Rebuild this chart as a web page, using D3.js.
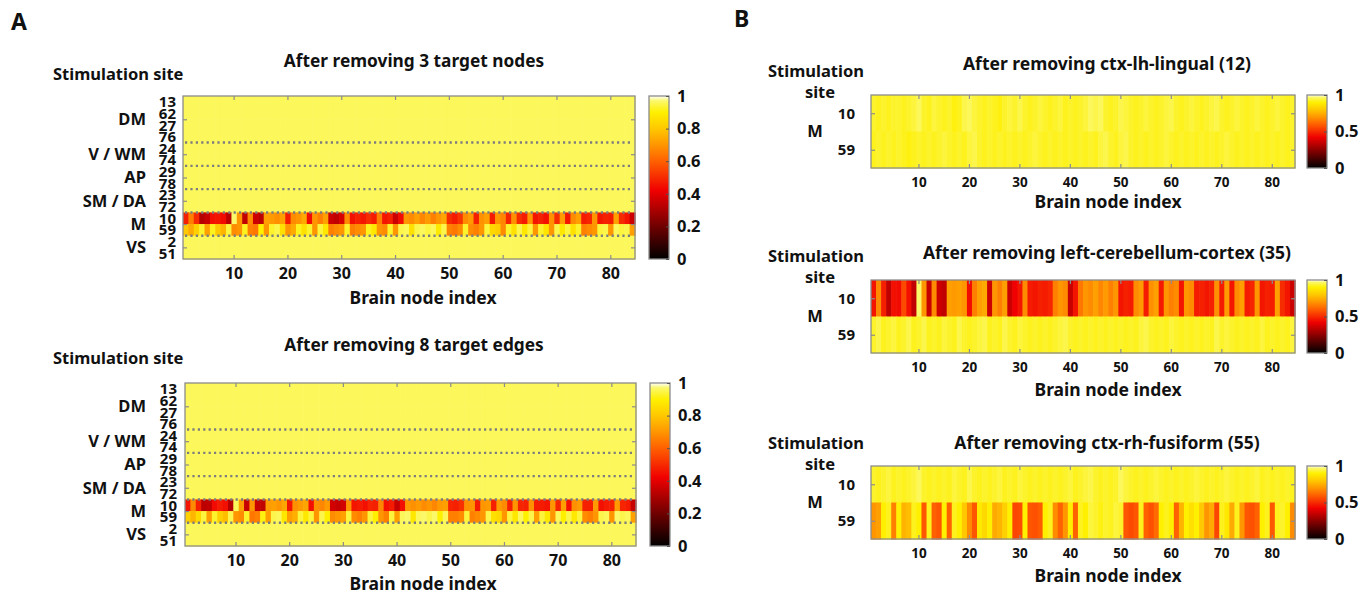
<!DOCTYPE html>
<html>
<head>
<meta charset="utf-8">
<script src="https://cdn.jsdelivr.net/npm/d3@7"></script>
<style>
  body { margin: 0; background: #fff; }
  text { font-family: "Noto Sans", "Open Sans", sans-serif; font-weight: bold; fill: #111; }
</style>
</head>
<body>
<div id="chart"></div>
<script>
// ---- data ----
const nodeIndex = d3.range(1, 85);           // brain node index 1..84
const xTicks = [10, 20, 30, 40, 50, 60, 70, 80];

const sitesA = ["13", "62", "27", "76", "24", "74", "29", "78", "23", "72", "10", "59", "2", "51"];
const groupNames = ["DM", "V / WM", "AP", "SM / DA", "M", "VS"];
const groupSizes = [4, 2, 2, 2, 2, 2];
const sitesB = ["10", "59"];

const cbTicksA = [0, 0.2, 0.4, 0.6, 0.8, 1];
const cbTicksB = [0, 0.5, 1];

// rows of panel A other than the M sites (all close to 1)
const restRowA = [0.96,0.96,0.96,0.96,0.96,0.96,0.96,0.96,0.96,0.96,
  0.96,0.96,0.96,0.96,0.96,0.96,0.96,0.96,0.96,0.96,
  0.96,0.96,0.96,0.96,0.96,0.96,0.96,0.96,0.96,0.96,
  0.96,0.96,0.96,0.96,0.96,0.96,0.96,0.96,0.96,0.96,
  0.96,0.96,0.96,0.96,0.96,0.96,0.96,0.96,0.96,0.96,
  0.96,0.96,0.96,0.96,0.96,0.96,0.96,0.96,0.96,0.96,
  0.96,0.96,0.96,0.96,0.96,0.96,0.96,0.96,0.96,0.96,
  0.96,0.96,0.96,0.96,0.96,0.96,0.96,0.96,0.96,0.96,
  0.96,0.96,0.96,0.96];

// After removing 3 target nodes
const nodes10 = [0.48,0.66,0.50,0.32,0.35,0.45,0.46,0.44,0.33,0.97,
  0.70,0.34,0.68,0.36,0.33,0.72,0.71,0.69,0.72,0.47,
  0.68,0.70,0.74,0.44,0.70,0.66,0.72,0.36,0.34,0.38,
  0.68,0.45,0.48,0.46,0.50,0.47,0.66,0.46,0.48,0.36,
  0.44,0.70,0.68,0.72,0.67,0.71,0.66,0.70,0.73,0.50,
  0.47,0.52,0.68,0.71,0.48,0.69,0.72,0.47,0.70,0.67,
  0.49,0.69,0.50,0.47,0.70,0.46,0.48,0.45,0.69,0.50,
  0.71,0.46,0.68,0.72,0.47,0.49,0.70,0.46,0.48,0.47,
  0.72,0.50,0.46,0.36];
const nodes59 = [0.80,0.74,0.82,0.93,0.72,0.92,0.80,0.76,0.94,0.68,
  0.70,0.92,0.66,0.64,0.90,0.70,0.93,0.95,0.86,0.70,
  0.74,0.92,0.86,0.93,0.70,0.94,0.88,0.66,0.68,0.70,
  0.93,0.66,0.68,0.70,0.92,0.88,0.70,0.68,0.93,0.70,
  0.95,0.96,0.86,0.95,0.96,0.94,0.96,0.88,0.95,0.66,
  0.64,0.68,0.93,0.68,0.66,0.70,0.94,0.84,0.82,0.68,
  0.93,0.86,0.95,0.88,0.94,0.70,0.93,0.87,0.70,0.95,
  0.88,0.94,0.86,0.93,0.66,0.68,0.70,0.94,0.95,0.70,
  0.96,0.94,0.95,0.72];

// After removing 8 target edges
const edges10 = [0.46,0.68,0.48,0.33,0.34,0.44,0.47,0.45,0.32,0.96,
  0.72,0.35,0.70,0.35,0.34,0.71,0.72,0.70,0.73,0.46,
  0.69,0.71,0.73,0.45,0.69,0.67,0.71,0.37,0.35,0.37,
  0.69,0.46,0.47,0.45,0.49,0.48,0.67,0.45,0.47,0.35,
  0.45,0.71,0.69,0.71,0.68,0.70,0.67,0.71,0.72,0.49,
  0.48,0.51,0.69,0.70,0.47,0.70,0.71,0.48,0.71,0.68,
  0.48,0.70,0.49,0.48,0.69,0.47,0.47,0.46,0.70,0.49,
  0.72,0.45,0.69,0.71,0.48,0.48,0.71,0.45,0.47,0.48,
  0.71,0.49,0.47,0.35];
const edges59 = [0.82,0.76,0.84,0.94,0.72,0.93,0.82,0.78,0.95,0.70,
  0.68,0.93,0.64,0.66,0.91,0.72,0.95,0.96,0.88,0.72,
  0.75,0.94,0.88,0.94,0.70,0.95,0.90,0.68,0.70,0.72,
  0.94,0.68,0.66,0.70,0.94,0.90,0.70,0.66,0.94,0.72,
  0.96,0.97,0.88,0.96,0.97,0.95,0.97,0.90,0.96,0.66,
  0.66,0.68,0.94,0.66,0.68,0.70,0.95,0.86,0.84,0.70,
  0.94,0.88,0.96,0.90,0.95,0.72,0.94,0.88,0.70,0.96,
  0.90,0.95,0.88,0.94,0.68,0.66,0.70,0.95,0.96,0.70,
  0.97,0.95,0.96,0.72];

// After removing ctx-lh-lingual (12)
const lingual10 = [0.93,0.92,0.93,0.92,0.93,0.93,0.92,0.93,0.94,0.96,
  0.93,0.92,0.94,0.93,0.92,0.93,0.91,0.92,0.95,0.96,
  0.94,0.93,0.92,0.93,0.92,0.91,0.93,0.94,0.93,0.95,
  0.93,0.92,0.93,0.94,0.93,0.92,0.93,0.94,0.92,0.93,
  0.92,0.93,0.94,0.96,0.95,0.96,0.93,0.92,0.93,0.95,
  0.94,0.93,0.92,0.93,0.94,0.93,0.92,0.93,0.94,0.95,
  0.93,0.92,0.93,0.94,0.93,0.92,0.93,0.94,0.95,0.93,
  0.92,0.93,0.94,0.93,0.92,0.93,0.94,0.93,0.92,0.93,
  0.94,0.93,0.92,0.93];
const lingual59 = [0.92,0.93,0.92,0.93,0.92,0.93,0.92,0.91,0.92,0.93,
  0.92,0.93,0.92,0.93,0.94,0.93,0.92,0.93,0.92,0.94,
  0.95,0.93,0.92,0.93,0.92,0.93,0.92,0.93,0.92,0.93,
  0.92,0.93,0.94,0.93,0.92,0.93,0.92,0.93,0.92,0.93,
  0.92,0.93,0.92,0.93,0.92,0.94,0.95,0.93,0.92,0.94,
  0.95,0.93,0.92,0.93,0.92,0.93,0.92,0.93,0.94,0.93,
  0.92,0.93,0.92,0.93,0.92,0.93,0.92,0.93,0.92,0.93,
  0.94,0.93,0.92,0.93,0.92,0.93,0.92,0.93,0.92,0.93,
  0.92,0.93,0.92,0.93];

// After removing left-cerebellum-cortex (35)
const cerebellum10 = [0.46,0.68,0.48,0.34,0.45,0.44,0.56,0.45,0.34,0.97,
  0.70,0.35,0.68,0.36,0.34,0.72,0.71,0.72,0.70,0.44,
  0.66,0.72,0.74,0.36,0.70,0.66,0.72,0.36,0.42,0.46,
  0.68,0.47,0.46,0.48,0.47,0.49,0.66,0.70,0.68,0.35,
  0.46,0.64,0.70,0.68,0.72,0.67,0.71,0.66,0.70,0.46,
  0.48,0.47,0.68,0.71,0.47,0.69,0.72,0.47,0.70,0.66,
  0.68,0.46,0.70,0.68,0.47,0.48,0.46,0.48,0.69,0.47,
  0.71,0.46,0.68,0.72,0.47,0.49,0.70,0.46,0.48,0.47,
  0.72,0.50,0.46,0.36];
const cerebellum59 = [0.93,0.95,0.92,0.93,0.94,0.92,0.93,0.95,0.92,0.93,
  0.95,0.92,0.93,0.92,0.94,0.93,0.92,0.95,0.93,0.92,
  0.93,0.94,0.95,0.92,0.93,0.92,0.95,0.93,0.92,0.94,
  0.93,0.92,0.93,0.92,0.93,0.92,0.93,0.94,0.95,0.93,
  0.92,0.93,0.92,0.93,0.92,0.93,0.92,0.93,0.92,0.93,
  0.92,0.93,0.92,0.94,0.95,0.93,0.92,0.93,0.92,0.94,
  0.93,0.92,0.93,0.92,0.93,0.92,0.93,0.92,0.95,0.93,
  0.94,0.93,0.92,0.93,0.92,0.93,0.92,0.94,0.92,0.93,
  0.92,0.93,0.92,0.94];

// After removing ctx-rh-fusiform (55)
const fusiform10 = [0.93,0.92,0.93,0.94,0.92,0.93,0.92,0.93,0.94,0.96,
  0.93,0.92,0.93,0.92,0.93,0.92,0.94,0.93,0.92,0.95,
  0.93,0.92,0.93,0.92,0.93,0.94,0.92,0.93,0.92,0.94,
  0.93,0.92,0.93,0.92,0.93,0.92,0.93,0.92,0.93,0.94,
  0.92,0.93,0.94,0.95,0.93,0.92,0.93,0.92,0.93,0.96,
  0.94,0.93,0.92,0.93,0.92,0.93,0.94,0.93,0.92,0.93,
  0.92,0.93,0.92,0.93,0.94,0.93,0.92,0.93,0.92,0.93,
  0.94,0.93,0.92,0.93,0.92,0.93,0.94,0.92,0.93,0.92,
  0.93,0.92,0.93,0.92];
const fusiform59 = [0.70,0.72,0.90,0.92,0.66,0.90,0.76,0.78,0.92,0.90,
  0.58,0.92,0.60,0.58,0.90,0.60,0.92,0.90,0.80,0.68,
  0.58,0.88,0.84,0.90,0.74,0.76,0.82,0.90,0.55,0.56,
  0.90,0.58,0.57,0.59,0.90,0.92,0.68,0.60,0.70,0.90,
  0.60,0.92,0.90,0.94,0.93,0.91,0.93,0.92,0.94,0.93,
  0.58,0.56,0.58,0.92,0.60,0.57,0.62,0.90,0.92,0.90,
  0.60,0.76,0.90,0.86,0.90,0.80,0.70,0.74,0.55,0.92,
  0.88,0.74,0.92,0.70,0.58,0.57,0.60,0.90,0.92,0.58,
  0.92,0.93,0.90,0.68];

// colormap (hot-like, as in the colour bars)
const cmapStops  = [0, 0.2, 0.42, 0.6, 0.7, 0.8, 0.9, 0.97, 1];
const cmapColors = ["#000000", "#700000", "#f00000", "#ff6000", "#ff9600", "#ffc800", "#fff000", "#fbf86a", "#ffffff"];

// ---- drawing ----
const svg = d3.select("#chart").append("svg")
    .attr("width", 1369)
    .attr("height", 594);

const color = d3.scaleLinear().domain(cmapStops).range(cmapColors).clamp(true);
const frameColor = "#8c8c8c";

// shared gradient for colour bars
const grad = svg.append("defs").append("linearGradient")
    .attr("id", "hotGrad")
    .attr("x1", 0).attr("y1", 1).attr("x2", 0).attr("y2", 0);
grad.selectAll("stop")
  .data(d3.range(0, 1.0001, 0.01))
  .enter().append("stop")
    .attr("offset", d => d)
    .attr("stop-color", d => color(d));

function heatmap(cfg) {
  const g = svg.append("g");
  const x = d3.scaleBand().domain(nodeIndex).range([cfg.left, cfg.right]);
  const y = d3.scaleBand().domain(d3.range(cfg.rows.length)).range([cfg.top, cfg.bottom]);

  cfg.rows.forEach((vals, i) => {
    g.append("g").selectAll("rect")
      .data(vals)
      .enter().append("rect")
        .attr("x", (d, j) => x(nodeIndex[j]))
        .attr("y", y(i))
        .attr("width", x.bandwidth() + 0.6)
        .attr("height", y.bandwidth() + 0.6)
        .attr("fill", d => color(d));
  });

  // dotted separators between groups
  if (cfg.groupSizes) {
    let acc = 0;
    cfg.groupSizes.slice(0, -1).forEach(s => {
      acc += s;
      g.append("line")
        .attr("x1", cfg.left + 2).attr("x2", cfg.right - 2)
        .attr("y1", y(acc)).attr("y2", y(acc))
        .attr("stroke", "#7d7d7d")
        .attr("stroke-width", 2.4)
        .attr("stroke-dasharray", "2.2,3.2");
    });
  }

  // frame
  g.append("rect")
    .attr("x", cfg.left).attr("y", cfg.top)
    .attr("width", cfg.right - cfg.left).attr("height", cfg.bottom - cfg.top)
    .attr("fill", "none").attr("stroke", frameColor).attr("stroke-width", 1.3);

  // x axis (inner ticks, bottom labels)
  const xb = g.append("g")
    .attr("transform", "translate(0," + cfg.bottom + ")")
    .call(d3.axisBottom(x).tickValues(xTicks).tickSize(-4).tickPadding(cfg.tickPad));
  const xt = g.append("g")
    .attr("transform", "translate(0," + cfg.top + ")")
    .call(d3.axisTop(x).tickValues(xTicks).tickSize(-4).tickFormat(""));

  // y ticks (inner, left and right)
  const yTickPos = cfg.yTickPos;
  const yl = d3.scaleLinear().domain([0, cfg.rows.length]).range([cfg.top, cfg.bottom]);
  const ya = g.append("g")
    .attr("transform", "translate(" + cfg.left + ",0)")
    .call(d3.axisLeft(yl).tickValues(yTickPos).tickSize(-4).tickFormat(""));
  const yr = g.append("g")
    .attr("transform", "translate(" + cfg.right + ",0)")
    .call(d3.axisRight(yl).tickValues(yTickPos).tickSize(-4).tickFormat(""));

  [xb, xt, ya, yr].forEach(a => {
    a.select(".domain").remove();
    a.selectAll("line").attr("stroke", frameColor).attr("stroke-width", 1.2);
  });
  xb.selectAll("text")
    .style("font-family", "'Noto Sans', sans-serif")
    .style("font-weight", "bold")
    .style("font-size", cfg.tickFont + "px")
    .attr("fill", "#111");

  // row labels
  cfg.rowLabels.forEach((lab, i) => {
    g.append("text")
      .attr("x", cfg.rowLabelX)
      .attr("y", y(i) + y.bandwidth() / 2)
      .attr("dy", "0.36em")
      .attr("text-anchor", "end")
      .style("font-size", cfg.rowFont + "px")
      .text(lab);
  });

  // group labels
  let acc = 0;
  cfg.groups.forEach((name, k) => {
    const size = cfg.groupSizes ? cfg.groupSizes[k] : cfg.rows.length;
    const yc = yl(acc + size / 2);
    acc += size;
    g.append("text")
      .attr("x", cfg.groupX)
      .attr("y", yc)
      .attr("dy", "0.36em")
      .attr("text-anchor", cfg.groupAnchor)
      .style("font-size", "16.5px")
      .text(name);
  });

  // title
  g.append("text")
    .attr("x", cfg.titleX).attr("y", cfg.titleY)
    .attr("text-anchor", "middle")
    .style("font-size", cfg.titleFont + "px")
    .text(cfg.title);

  // y axis caption
  cfg.stim.forEach(s => {
    g.append("text")
      .attr("x", s.x).attr("y", s.y)
      .attr("text-anchor", s.anchor)
      .style("font-size", "16.5px")
      .text(s.text);
  });

  // x axis caption
  g.append("text")
    .attr("x", cfg.xlabX).attr("y", cfg.xlabY)
    .attr("text-anchor", "middle")
    .style("font-size", "17.5px")
    .text("Brain node index");

  // colour bar
  const cb = d3.scaleLinear().domain([0, 1]).range([cfg.bottom, cfg.top]);
  g.append("rect")
    .attr("x", cfg.cbX).attr("y", cfg.top)
    .attr("width", cfg.cbW).attr("height", cfg.bottom - cfg.top)
    .attr("fill", "url(#hotGrad)")
    .attr("stroke", frameColor).attr("stroke-width", 1.3);
  const cba = g.append("g")
    .attr("transform", "translate(" + (cfg.cbX + cfg.cbW) + ",0)")
    .call(d3.axisRight(cb).tickValues(cfg.cbTicks).tickSize(-3).tickPadding(cfg.cbPad).tickFormat(d3.format("~g")));
  cba.select(".domain").remove();
  cba.selectAll("line").attr("stroke", "#555");
  cba.selectAll("text")
    .style("font-family", "'Noto Sans', sans-serif")
    .style("font-weight", "bold")
    .style("font-size", "16.5px")
    .attr("fill", "#111");
}

function rowsA(m10, m59) {
  return sitesA.map(s => s === "10" ? m10 : s === "59" ? m59 : restRowA);
}

const groupCentersA = [2, 5, 7, 9, 11, 13];

heatmap({
  left: 183, right: 635, top: 96, bottom: 259,
  rows: rowsA(nodes10, nodes59), rowLabels: sitesA, rowLabelX: 176, rowFont: 15,
  groups: groupNames, groupSizes: groupSizes, groupX: 146, groupAnchor: "end",
  yTickPos: groupCentersA,
  title: "After removing 3 target nodes", titleX: 414, titleY: 67, titleFont: 17.3,
  stim: [{ text: "Stimulation site", x: 53, y: 80, anchor: "start" }],
  xlabX: 423, xlabY: 304, tickPad: 9, tickFont: 16,
  cbX: 649, cbW: 20, cbTicks: cbTicksA, cbPad: 8
});

heatmap({
  left: 185, right: 636, top: 383, bottom: 546,
  rows: rowsA(edges10, edges59), rowLabels: sitesA, rowLabelX: 177, rowFont: 15,
  groups: groupNames, groupSizes: groupSizes, groupX: 146, groupAnchor: "end",
  yTickPos: groupCentersA,
  title: "After removing 8 target edges", titleX: 414, titleY: 351, titleFont: 17.3,
  stim: [{ text: "Stimulation site", x: 53, y: 364, anchor: "start" }],
  xlabX: 423, xlabY: 590, tickPad: 9, tickFont: 16,
  cbX: 650, cbW: 20, cbTicks: cbTicksA, cbPad: 8
});

const panelsB = [
  { title: "After removing ctx-lh-lingual (12)", rows: [lingual10, lingual59], top: 95, titleY: 70, stimY: 77, xlabY: 208 },
  { title: "After removing left-cerebellum-cortex (35)", rows: [cerebellum10, cerebellum59], top: 280, titleY: 259, stimY: 262, xlabY: 396 },
  { title: "After removing ctx-rh-fusiform (55)", rows: [fusiform10, fusiform59], top: 466, titleY: 449, stimY: 449, xlabY: 582 }
];

panelsB.forEach(p => {
  heatmap({
    left: 871, right: 1295, top: p.top, bottom: p.top + 73,
    rows: p.rows, rowLabels: sitesB, rowLabelX: 855, rowFont: 15,
    groups: ["M"], groupSizes: null, groupX: 815, groupAnchor: "middle",
    yTickPos: [0.5, 1.5],
    title: p.title, titleX: 1107, titleY: p.titleY, titleFont: 17.5,
    stim: [{ text: "Stimulation", x: 816, y: p.stimY, anchor: "middle" },
           { text: "site", x: 820, y: p.stimY + 21, anchor: "middle" }],
    xlabX: 1108, xlabY: p.xlabY, tickPad: 9, tickFont: 13.5,
    cbX: 1307, cbW: 20, cbTicks: cbTicksB, cbPad: 8
  });
});

// panel letters
svg.append("text").attr("x", 11).attr("y", 30).style("font-size", "23px").text("A");
svg.append("text").attr("x", 734).attr("y", 27).style("font-size", "23px").text("B");
</script>
</body>
</html>
